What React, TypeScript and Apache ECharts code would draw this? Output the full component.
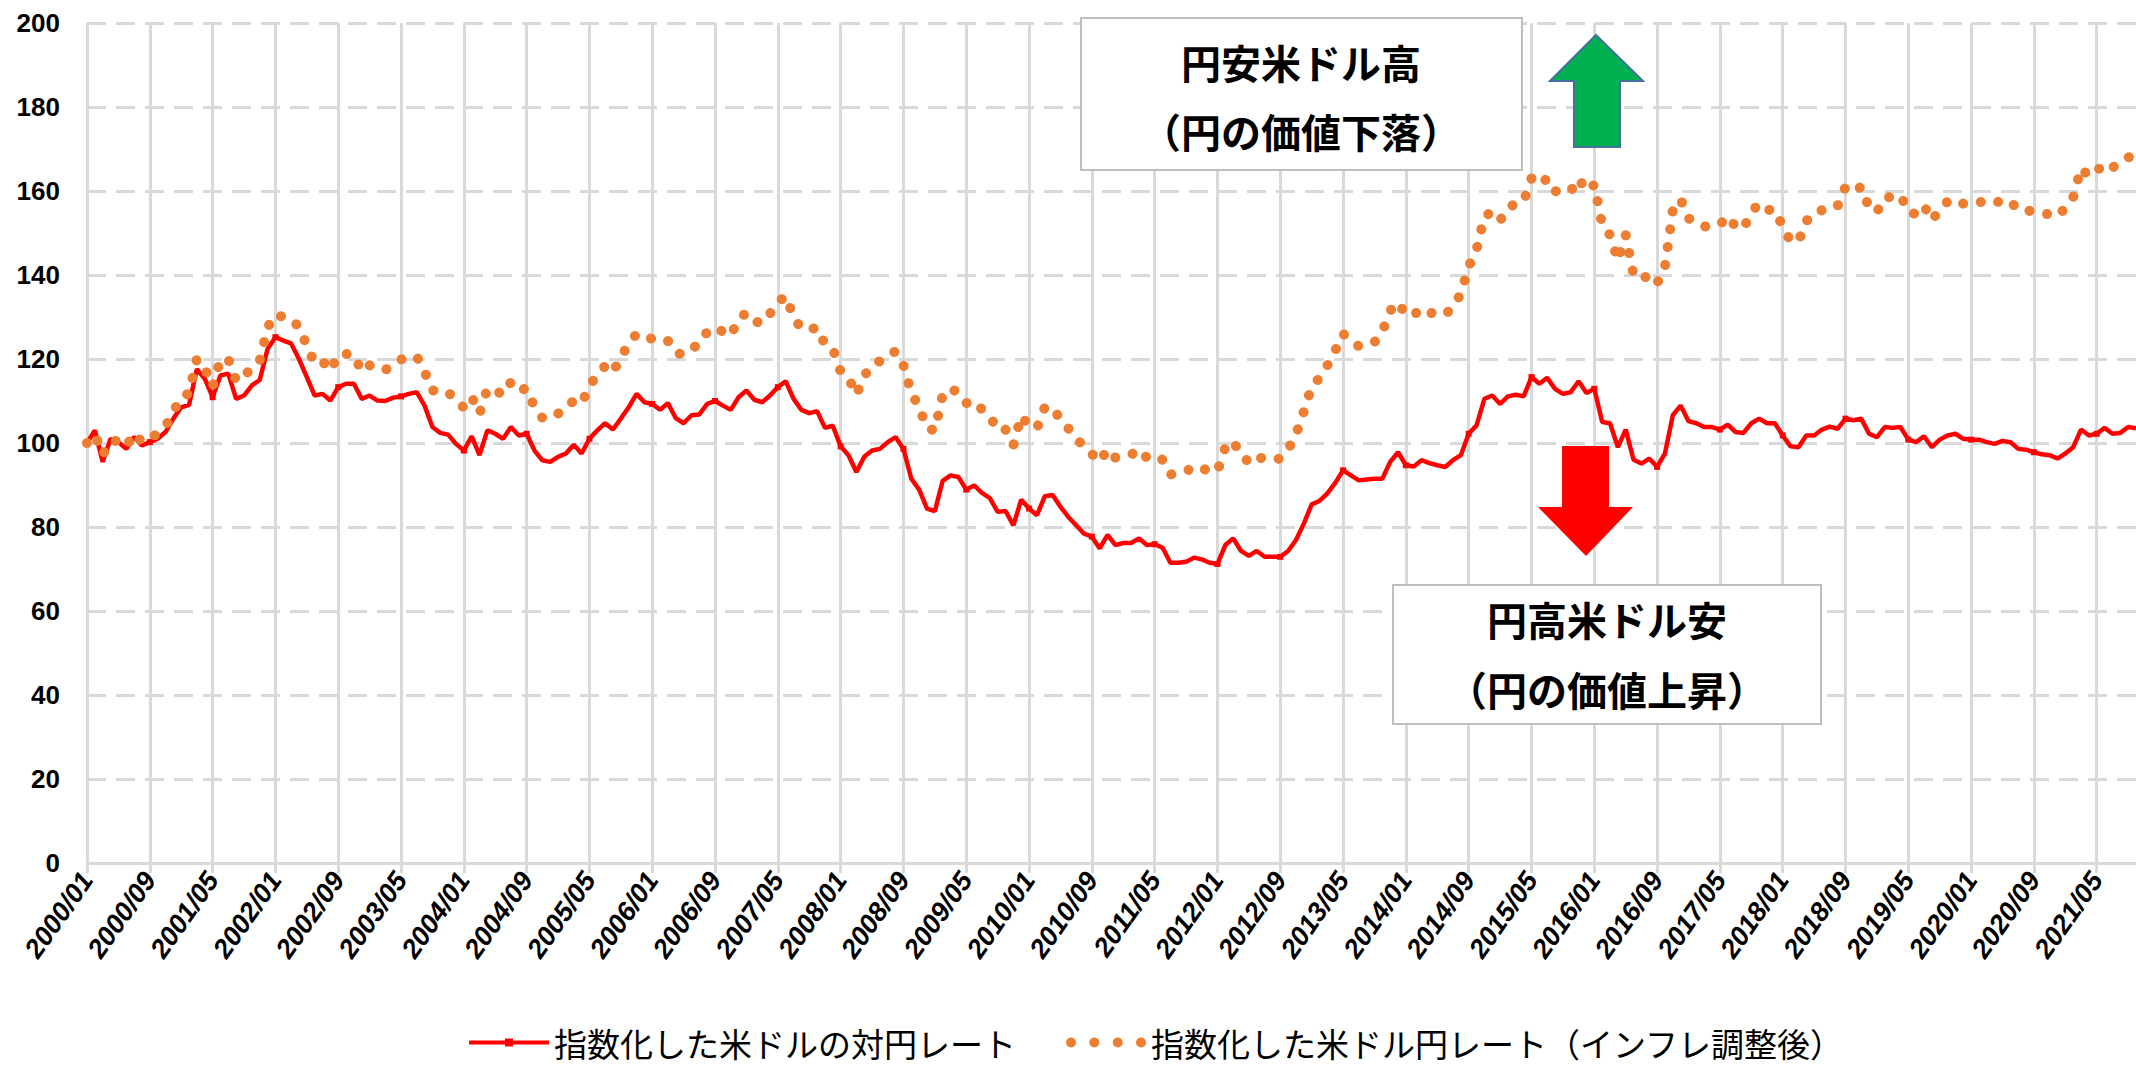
import React, { useEffect, useRef } from "react";
import * as echarts from "echarts";

// ---- categories: monthly from 2000/01 to 2021/10 ----
const START_YEAR = 2000;
const MONTH_COUNT = 262;
const months: string[] = [];
for (let i = 0; i < MONTH_COUNT; i++) {
  const y = START_YEAR + Math.floor(i / 12);
  const m = (i % 12) + 1;
  months.push(`${y}/${m < 10 ? "0" + m : m}`);
}

const SERIES_NOMINAL = "指数化した米ドルの対円レート";
const SERIES_REAL = "指数化した米ドル円レート（インフレ調整後）";

// 指数化した米ドルの対円レート (2000/01 = 100)
const nominalIndex: number[] = [
  100.0, 103.0, 95.5, 101.0, 100.2, 98.6, 101.4, 99.4, 100.2, 101.0,
  102.6, 105.8, 108.5, 109.1, 117.6, 115.3, 110.9, 116.1, 116.5, 110.5,
  111.3, 113.7, 115.0, 122.4, 125.2, 124.4, 123.7, 120.0, 115.7, 111.3,
  111.7, 110.1, 113.3, 114.1, 114.1, 110.5, 111.3, 110.1, 110.0, 110.8,
  111.1, 111.7, 112.1, 108.9, 103.8, 102.4, 102.0, 99.8, 98.2, 101.6,
  97.1, 103.0, 102.2, 101.0, 103.8, 101.8, 102.2, 98.2, 95.9, 95.5,
  96.7, 97.5, 99.6, 97.5, 101.0, 103.0, 104.7, 103.2, 105.8, 108.5,
  111.7, 109.7, 109.3, 107.9, 109.5, 105.9, 104.7, 106.6, 106.8, 109.3,
  110.0, 108.9, 107.9, 110.9, 112.5, 110.3, 109.7, 111.3, 113.3, 114.7,
  110.5, 107.9, 107.1, 107.6, 103.6, 104.1, 99.2, 97.1, 93.1, 96.7,
  98.2, 98.6, 100.2, 101.4, 98.6, 91.5, 88.9, 84.4, 83.8, 91.0,
  92.3, 91.9, 88.9, 89.9, 88.1, 86.9, 83.6, 83.8, 80.4, 86.5,
  84.4, 82.8, 87.3, 87.6, 84.8, 82.4, 80.4, 78.4, 77.7, 74.9,
  78.1, 75.7, 76.2, 76.2, 77.3, 75.7, 75.9, 75.1, 71.5, 71.5,
  71.7, 72.7, 72.3, 71.5, 71.2, 75.7, 77.3, 74.3, 73.1, 74.3,
  72.9, 72.9, 72.9, 74.3, 76.9, 80.8, 85.4, 86.2, 88.0, 90.5,
  93.5, 92.3, 91.1, 91.3, 91.5, 91.5, 95.5, 97.8, 94.7, 94.4,
  95.9, 95.2, 94.7, 94.3, 95.9, 97.1, 102.2, 104.2, 110.5, 111.3,
  109.3, 111.1, 111.5, 111.1, 115.7, 114.1, 115.5, 112.9, 111.7, 112.1,
  114.7, 111.9, 112.9, 105.0, 104.7, 99.0, 103.2, 96.0, 95.1, 96.3,
  94.3, 97.5, 106.6, 108.9, 105.2, 104.7, 103.8, 103.8, 103.2, 104.4,
  102.6, 102.4, 104.7, 105.8, 104.7, 104.7, 101.8, 99.2, 99.0, 101.8,
  101.8, 103.2, 103.9, 103.4, 105.8, 105.4, 105.8, 102.2, 101.4, 103.8,
  103.6, 103.8, 100.8, 100.2, 101.6, 99.0, 100.8, 101.8, 102.2, 101.0,
  100.8, 100.8, 100.2, 99.8, 100.5, 100.2, 98.6, 98.4, 97.8, 97.3,
  97.1, 96.3, 97.5, 99.0, 103.2, 101.8, 102.2, 103.6, 102.2, 102.4,
  103.8, 103.5,
];

// 指数化した米ドル円レート（インフレ調整後）
const realIndex: number[] = [
  100.0, 102.0, 97.2, 100.5, 100.5, 99.2, 102.3, 100.2, 101.2, 102.2,
  103.9, 107.5, 111.0, 111.8, 120.0, 117.8, 113.4, 119.9, 120.0, 114.8,
  115.6, 118.2, 119.6, 127.5, 130.6, 130.0, 129.5, 127.6, 123.2, 119.0,
  119.5, 117.2, 121.0, 121.2, 121.0, 117.0, 118.5, 117.5, 117.4, 118.6,
  119.9, 120.2, 120.6, 117.0, 112.5, 112.6, 112.2, 109.8, 108.5, 111.0,
  107.0, 113.0, 112.5, 111.5, 114.5, 112.5, 113.0, 108.5, 106.0, 105.8,
  107.0, 108.0, 110.2, 109.5, 113.4, 116.5, 118.3, 116.8, 120.5, 123.5,
  126.0, 125.2, 124.8, 124.0, 124.3, 121.5, 121.0, 122.5, 123.5, 126.5,
  127.5, 126.5, 125.5, 129.5, 131.0, 129.0, 128.5, 130.8, 133.5, 135.0,
  130.0, 127.2, 127.0, 127.5, 123.4, 122.5, 117.0, 115.5, 111.5, 116.0,
  118.5, 119.5, 121.0, 121.8, 118.5, 112.0, 108.5, 103.5, 103.0, 111.5,
  113.0, 112.0, 109.5, 110.0, 108.0, 106.5, 103.0, 103.2, 99.5, 106.5,
  104.0, 103.5, 108.5, 108.5, 105.5, 103.5, 100.8, 99.5, 97.4, 95.5,
  98.5, 96.5, 97.0, 97.2, 98.5, 96.5, 97.0, 96.0, 92.5, 92.8,
  93.2, 94.5, 94.0, 93.3, 93.3, 99.0, 100.5, 97.0, 95.5, 97.0,
  96.0, 96.0, 96.3, 98.5, 102.0, 107.5, 113.5, 115.5, 118.5, 122.0,
  126.0, 124.5, 123.0, 123.5, 124.0, 126.5, 131.5, 133.5, 130.5, 130.5,
  132.0, 131.0, 130.8, 130.5, 132.5, 135.5, 142.0, 146.0, 154.0, 155.0,
  153.0, 156.0, 157.0, 157.5, 163.0, 161.5, 163.0, 160.0, 159.5, 160.0,
  163.0, 160.0, 161.5, 152.0, 149.5, 143.5, 149.5, 140.0, 139.0, 140.0,
  138.0, 142.0, 155.5, 158.0, 153.5, 152.5, 151.5, 152.0, 152.0, 154.0,
  151.5, 151.0, 155.0, 157.0, 155.5, 155.5, 151.5, 148.0, 148.0, 153.0,
  153.5, 155.5, 156.5, 156.5, 161.0, 160.0, 161.0, 156.0, 155.0, 158.5,
  158.5, 159.0, 155.0, 154.5, 156.5, 153.0, 155.5, 157.5, 158.0, 157.0,
  157.0, 157.5, 157.0, 157.0, 158.0, 157.5, 155.5, 155.5, 155.0, 154.5,
  154.5, 154.0, 156.0, 158.5, 165.5, 163.5, 164.8, 166.5, 165.5, 167.0,
  168.0, 168.5,
];

const Y_MIN = 0;
const Y_MAX = 200;
const Y_STEP = 20;
const LABEL_EVERY = 8; // months between tick labels

const BOX_UP_LINES = ["円安米ドル高", "（円の価値下落）"];
const BOX_DOWN_LINES = ["円高米ドル安", "（円の価値上昇）"];

const JP_FONT = '"Noto Sans CJK JP", "Noto Sans CJK SC", sans-serif';
const NUM_FONT = '"Liberation Sans", Arial, sans-serif';

const dotsIcon =
  "path://M0,5a5,5 0 1,0 10,0a5,5 0 1,0 -10,0Z" +
  "M23.3,5a5,5 0 1,0 10,0a5,5 0 1,0 -10,0Z" +
  "M46.7,5a5,5 0 1,0 10,0a5,5 0 1,0 -10,0Z" +
  "M70,5a5,5 0 1,0 10,0a5,5 0 1,0 -10,0Z";

function textEl(text: string, x: number, y: number) {
  return {
    type: "text",
    x,
    y,
    z: 20,
    style: {
      text,
      fill: "#000",
      fontSize: 40,
      fontWeight: "bold",
      fontFamily: JP_FONT,
      align: "center",
      verticalAlign: "middle",
      textAlign: "center",
      textVerticalAlign: "middle",
    },
  };
}

export default function App() {
  const ref = useRef<HTMLDivElement>(null);

  useEffect(() => {
    const el = ref.current;
    if (!el) return;
    const chart = echarts.init(el, null, { renderer: "svg" });
    const gridColor = "#d9d9d9";

    chart.setOption({
      animation: false,
      backgroundColor: "#ffffff",
      grid: { left: 87, right: 0, top: 23, bottom: 205, containLabel: false },
      legend: {
        left: 467,
        top: 1026,
        itemWidth: 80,
        itemHeight: 10,
        itemGap: 50,
        padding: 0,
        lineStyle: { width: 4 },
        textStyle: {
          fontSize: 33,
          lineHeight: 33,
          fontFamily: JP_FONT,
          color: "#000",
        },
        data: [
          { name: SERIES_NOMINAL },
          { name: SERIES_REAL, icon: dotsIcon },
        ],
      },
      xAxis: {
        type: "category",
        data: months,
        boundaryGap: false,
        axisLine: { show: true, lineStyle: { color: gridColor, width: 3 } },
        axisTick: {
          show: true,
          interval: LABEL_EVERY - 1,
          length: 10,
          lineStyle: { color: gridColor, width: 3 },
        },
        axisLabel: {
          interval: LABEL_EVERY - 1,
          rotate: 55,
          margin: 12,
          fontSize: 27,
          fontWeight: "bold",
          fontStyle: "italic",
          fontFamily: NUM_FONT,
          color: "#000",
        },
        splitLine: {
          show: true,
          interval: LABEL_EVERY - 1,
          lineStyle: { color: gridColor, width: 3, type: "solid" },
        },
      },
      yAxis: {
        type: "value",
        min: Y_MIN,
        max: Y_MAX,
        interval: Y_STEP,
        axisLine: { show: false },
        axisTick: { show: false },
        axisLabel: {
          margin: 27,
          fontSize: 26,
          fontWeight: "bold",
          fontFamily: NUM_FONT,
          color: "#000",
        },
        splitLine: {
          show: true,
          lineStyle: { color: gridColor, width: 3, type: [19, 10] },
        },
      },
      series: [
        {
          name: SERIES_NOMINAL,
          type: "line",
          data: nominalIndex,
          symbol: "rect",
          symbolSize: 6,
          showSymbol: true,
          itemStyle: { color: "#ff0000" },
          lineStyle: { color: "#ff0000", width: 4.5 },
          z: 3,
        },
        {
          name: SERIES_REAL,
          type: "line",
          data: realIndex,
          symbol: "none",
          showSymbol: false,
          itemStyle: { color: "#ed7d31" },
          lineStyle: {
            color: "#ed7d31",
            width: 10,
            type: [0.1, 17.9],
            cap: "round",
            join: "round",
          },
          z: 4,
        },
      ],
      graphic: [
        {
          type: "rect",
          z: 15,
          shape: { x: 1081, y: 18, width: 441, height: 152 },
          style: { fill: "#ffffff", stroke: "#bfbfbf", lineWidth: 2 },
        },
        textEl(BOX_UP_LINES[0], 1301, 62),
        textEl(BOX_UP_LINES[1], 1301, 131),
        {
          type: "rect",
          z: 15,
          shape: { x: 1393, y: 585, width: 428, height: 139 },
          style: { fill: "#ffffff", stroke: "#bfbfbf", lineWidth: 2 },
        },
        textEl(BOX_DOWN_LINES[0], 1607, 619),
        textEl(BOX_DOWN_LINES[1], 1607, 689),
        {
          type: "polygon",
          z: 15,
          shape: {
            points: [
              [1596, 35], [1643, 81], [1620, 81], [1620, 147],
              [1574, 147], [1574, 81], [1550, 81],
            ],
          },
          style: { fill: "#00b050", stroke: "#41719c", lineWidth: 2 },
        },
        {
          type: "polygon",
          z: 15,
          shape: {
            points: [
              [1562, 446], [1609, 446], [1609, 507], [1633, 507],
              [1586, 556], [1538, 507], [1562, 507],
            ],
          },
          style: { fill: "#ff0000" },
        },
      ],
    });

    return () => chart.dispose();
  }, []);

  return (
    <div
      ref={ref}
      style={{
        position: "fixed",
        left: 0,
        top: 0,
        width: 2136,
        height: 1068,
        background: "#fff",
      }}
    />
  );
}
